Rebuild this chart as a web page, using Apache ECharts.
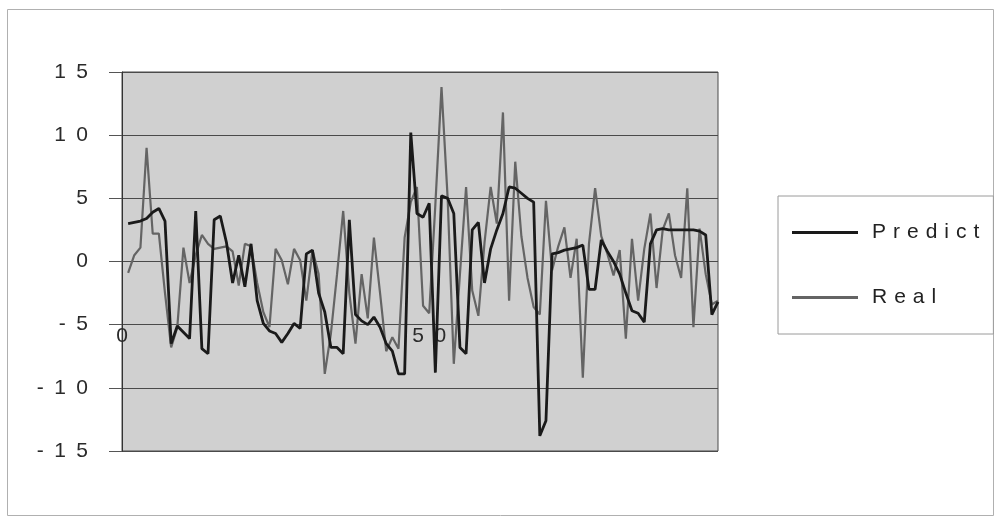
<!DOCTYPE html>
<html>
<head>
<meta charset="utf-8">
<script src="https://cdn.jsdelivr.net/npm/echarts@6/dist/echarts.min.js"></script>
<style>
  html, body { margin: 0; padding: 0; background: #ffffff; }
  #chart { width: 998px; height: 523px; }
</style>
</head>
<body>
<div id="chart"></div>
<script>
// Series values, one per step (steps 1..97)
const predict = [
  3.0, 3.1, 3.2, 3.4, 3.9, 4.2, 3.2, -6.5, -5.1, -5.6,
  -6.1, 4.0, -6.9, -7.3, 3.3, 3.6, 1.5, -1.7, 0.5, -2.0,
  1.4, -3.1, -4.9, -5.5, -5.7, -6.4, -5.7, -4.9, -5.3, 0.6,
  0.9, -2.5, -4.0, -6.8, -6.8, -7.3, 3.3, -4.2, -4.7, -5.0,
  -4.4, -5.2, -6.5, -7.1, -8.9, -8.9, 10.2, 3.8, 3.5, 4.6,
  -8.8, 5.2, 5.0, 3.8, -6.8, -7.3, 2.5, 3.1, -1.7, 1.0,
  2.5, 3.8, 5.9, 5.8, 5.4, 5.0, 4.7, -13.8, -12.6, 0.6,
  0.7, 0.9, 1.0, 1.1, 1.3, -2.2, -2.2, 1.7, 0.8, 0.0,
  -1.0, -2.5, -3.9, -4.1, -4.8, 1.4, 2.5, 2.6, 2.5, 2.5,
  2.5, 2.5, 2.5, 2.4, 2.1, -4.2, -3.2
];
const real = [
  -0.9, 0.5, 1.1, 9.0, 2.2, 2.2, -2.5, -6.8, -5.2, 1.1,
  -1.7, 0.5, 2.1, 1.4, 1.0, 1.1, 1.2, 0.8, -1.9, 1.4,
  1.2, -1.7, -4.0, -5.2, 1.0, 0.1, -1.8, 1.0, 0.1, -3.1,
  0.9, -1.0, -8.9, -5.7, -1.0, 4.0, -2.5, -6.5, -1.0, -4.5,
  1.9, -2.5, -7.1, -6.0, -6.9, 1.9, 4.7, 5.9, -3.5, -4.1,
  4.5, 13.8, 5.0, -8.1, -1.0, 5.9, -2.3, -4.3, 1.5, 5.9,
  3.0, 11.8, -3.1, 7.9, 2.0, -1.3, -3.6, -4.2, 4.8, -0.7,
  1.2, 2.7, -1.3, 1.8, -9.2, 1.4, 5.8, 2.0, 0.6, -1.1,
  0.9, -6.1, 1.8, -3.1, 1.0, 3.8, -2.1, 2.5, 3.8, 0.5,
  -1.3, 5.8, -5.2, 2.6, -1.0, -3.4, -3.1
];
const seriesNames = ['Predict', 'Real'];
const yTicks = { min: -15, max: 15, step: 5 };
const xTicks = { min: 0, max: 97, step: 50 };

// step numbers 1..N for the horizontal value axis
const steps = predict.map((_, i) => i + 1);
const pairs = vals => vals.map((v, i) => [steps[i], v]);

// wide tracking of the labels, done with spacing characters
const track = (s, sp) => String(s).split('').join(sp);

const FONT = '"Liberation Sans", Arial, sans-serif';
const chart = echarts.init(document.getElementById('chart'), null, { renderer: 'canvas' });

const gridTop = 72, gridBottom = 72;
const gridH = 523 - gridTop - gridBottom;
// horizontal axis sits on the -5 line
const xAxisOffset = -gridH * (-5 - yTicks.min) / (yTicks.max - yTicks.min);

chart.setOption({
  animation: false,
  backgroundColor: '#ffffff',
  graphic: [{
    type: 'rect',
    shape: { x: 7.5, y: 9.5, width: 986, height: 506 },
    style: { fill: 'none', stroke: '#b0b0b0', lineWidth: 1 },
    silent: true,
    z: -1
  }],
  grid: {
    left: 122, right: 280, top: gridTop, bottom: gridBottom,
    show: true,
    backgroundColor: '#d0d0d0',
    borderColor: '#4a4a4a',
    borderWidth: 1
  },
  legend: {
    data: seriesNames,
    orient: 'vertical',
    left: 778, top: 196,
    padding: [26, 14, 26, 14],
    itemGap: 44,
    itemWidth: 66,
    itemHeight: 3,
    icon: 'rect',
    borderColor: '#9a9a9a',
    borderWidth: 1,
    backgroundColor: '#ffffff',
    formatter: n => track(n, '\u2004'),
    textStyle: { fontFamily: FONT, fontSize: 21, color: '#222222', padding: [0, 0, 0, 9] }
  },
  xAxis: {
    type: 'value',
    min: xTicks.min, max: xTicks.max, interval: xTicks.step,
    offset: xAxisOffset,
    axisLine: { show: false },
    axisTick: { show: false },
    splitLine: { show: false },
    axisLabel: {
      showMaxLabel: false,
      margin: 1,
      fontFamily: FONT, fontSize: 21, color: '#2a2a2a',
      formatter: v => track(v, '\u2002')
    }
  },
  yAxis: {
    type: 'value',
    min: yTicks.min, max: yTicks.max, interval: yTicks.step,
    axisLine: { show: true, lineStyle: { color: '#333333', width: 1 } },
    axisTick: { show: true, length: 13, lineStyle: { color: '#555555' } },
    splitLine: { show: true, lineStyle: { color: '#4a4a4a', width: 1 } },
    axisLabel: {
      margin: 34,
      fontFamily: FONT, fontSize: 21, color: '#2a2a2a',
      formatter: v => track(v, '\u2002')
    }
  },
  series: [
    {
      name: seriesNames[0], type: 'line', data: pairs(predict),
      showSymbol: false, symbol: 'none',
      lineStyle: { color: '#1a1a1a', width: 2.8 },
      itemStyle: { color: '#1a1a1a' },
      z: 3
    },
    {
      name: seriesNames[1], type: 'line', data: pairs(real),
      showSymbol: false, symbol: 'none',
      lineStyle: { color: '#646464', width: 2.2 },
      itemStyle: { color: '#646464' },
      z: 2
    }
  ]
});
</script>
</body>
</html>
